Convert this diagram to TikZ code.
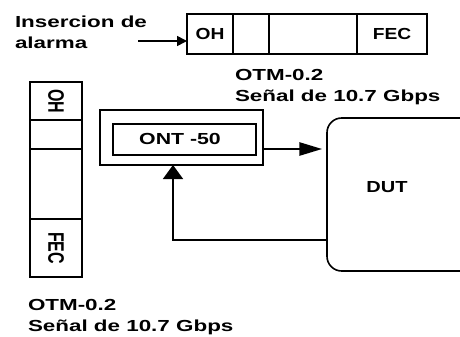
\documentclass[tikz,border=0pt]{standalone}
\usepackage{fontspec}
\setmainfont{Liberation Sans}
\usepackage{graphicx}
\usetikzlibrary{arrows.meta}

\newcommand{\wide}[2][1.4]{\scalebox{#1}[1]{#2}}
\newcommand{\vlabel}[1]{\rotatebox{-90}{\scalebox{1}[1.4]{#1}}}

\begin{document}
\begin{tikzpicture}[x=0.75pt, y=-0.75pt, line width=1.2pt,
    every node/.style={font=\fontsize{12}{16}\selectfont\bfseries, inner sep=0pt, outer sep=0pt},
    cell/.style={draw, anchor=north west, minimum height=30pt},
    vcell/.style={draw, anchor=north west, minimum width=39pt},
    harrow/.style={-{Triangle[length=17pt, width=10pt]}},
    varrow/.style={-{Triangle[length=10.5pt, width=15pt]}},
    sarrow/.style={-{Triangle[length=7.5pt, width=7.5pt]}}]
    \useasboundingbox (0,0) rectangle (460,336);
    % trama horizontal
    \node[cell, minimum width=34.5pt] (oh) at (187,14) {\wide[1.2]{OH}};
    \node[cell, minimum width=27pt] (c2) at (233,14) {};
    \node[cell, minimum width=66pt] (c3) at (269,14) {};
    \node[cell, minimum width=52.5pt] (fec) at (357,14) {\wide[1.2]{FEC}};
    \node[anchor=west, align=left] (alarma) at (15,32) {\wide{Insercion de}\\\wide{alarma}};
    \coordinate (ain) at (138,41);
    \draw[sarrow] (ain) -- (ain -| oh.west);
    \node[anchor=west, align=left] (otmtop) at (235,87) {\wide{OTM-0.2}\\\wide{Señal de 10.7 Gbps}};
    % trama vertical
    \node[vcell, minimum height=28.5pt] (voh) at (30,82) {\vlabel{OH}};
    \node[vcell, minimum height=21.75pt] (v2) at (30,120) {};
    \node[vcell, minimum height=52.5pt] (v3) at (30,149) {};
    \node[vcell, minimum height=43.5pt] (vfec) at (30,219) {\vlabel{FEC}};
    \node[anchor=west, align=left] (otmbot) at (28,317) {\wide{OTM-0.2}\\\wide{Señal de 10.7 Gbps}};
    % equipos
    \node[draw, anchor=north west, minimum width=122.25pt, minimum height=41.25pt] (ontbox) at (100,110) {};
    \node[draw, anchor=north west, minimum width=107.25pt, minimum height=23.25pt] (ont) at (113,124) {};
    \node (ontlabel) at (180,139) {\wide[1.33]{ONT -50}};
    \node[draw, anchor=north west, rounded corners=11pt, minimum width=150pt, minimum height=114.75pt] (dut) at (327,118) {};
    \node (dutlabel) at (387,187) {\wide[1.25]{DUT}};
    \coordinate (tx) at (263,149);
    \coordinate (rx) at (173,240);
    \draw[harrow, shorten >=3.75pt] (ontbox.east |- tx) -- (tx -| dut.west);
    \draw[varrow] (rx -| dut.west) -- (rx) -- (rx |- ontbox.south);
\end{tikzpicture}
\end{document}
